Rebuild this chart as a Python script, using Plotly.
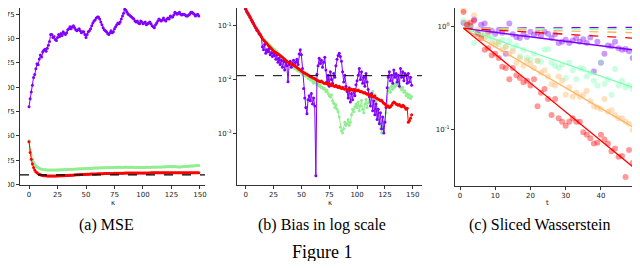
import plotly.graph_objects as go

# ---- panel (a): MSE vs kappa ----
mse_purple = [
    .080, .088, .095, .102, .110, .113, .119, .124, .123, .129,
    .133, .131, .136, .138, .139, .137, .140, .143, .147, .154,
    .154, .151, .152, .149, .148, .151, .154, .152, .155, .153,
    .157, .155, .154, .156, .159, .160, .162, .160, .162, .163,
    .161, .159, .158, .159, .160, .158, .156, .157, .157, .154,
    .151, .154, .157, .158, .160, .163, .166, .168, .169, .171,
    .172, .172, .170, .167, .164, .161, .159, .158, .157, .155,
    .154, .156, .158, .156, .157, .160, .162, .164, .166, .165,
    .167, .170, .173, .176, .180, .179, .177, .175, .174, .173,
    .172, .171, .170, .168, .167, .168, .166, .165, .168, .167,
    .165, .166, .167, .164, .165, .166, .167, .165, .163, .162,
    .161, .164, .166, .168, .170, .169, .168, .169, .171, .169,
    .168, .170, .171, .170, .173, .172, .172, .174, .177, .176,
    .175, .176, .177, .175, .174, .175, .175, .174, .173, .173,
    .174, .175, .177, .177, .176, .175, .173, .174, .175, .173,
]
mse_green = [
    .045, .036, .030, .026, .023, .021, .0195, .0183, .0174, .0167,
    .0162, .0158, .0156, .0154, .0152, .0151, .0150, .0149, .0149, .0148,
    .0148, .0149, .0148, .0150, .0149, .0150, .0151, .0150, .0152, .0151,
    .0152, .0153, .0152, .0154, .0155, .0154, .0156, .0157, .0156, .0158,
    .0158, .0159, .0160, .0159, .0161, .0162, .0161, .0163, .0164, .0163,
    .0164, .0165, .0166, .0165, .0167, .0168, .0167, .0169, .0170, .0169,
    .0170, .0171, .0170, .0172, .0171, .0172, .0173, .0172, .0174, .0173,
    .0174, .0175, .0174, .0176, .0175, .0176, .0177, .0176, .0178, .0177,
    .0178, .0177, .0176, .0177, .0178, .0179, .0178, .0177, .0176, .0177,
    .0178, .0177, .0176, .0175, .0176, .0177, .0176, .0175, .0176, .0177,
    .0176, .0175, .0176, .0177, .0178, .0177, .0176, .0178, .0179, .0178,
    .0180, .0179, .0178, .0180, .0181, .0180, .0179, .0181, .0182, .0181,
    .0182, .0183, .0184, .0185, .0184, .0183, .0182, .0184, .0185, .0183,
    .0182, .0181, .0180, .0181, .0182, .0183, .0184, .0185, .0186, .0187,
    .0188, .0189, .0190, .0191, .0190, .0192, .0194, .0195, .0196, .0195,
]
mse_red = [
    .044, .033, .026, .021, .0175, .0150, .0132, .0120, .0111, .0104,
    .0099, .0095, .0093, .0091, .0090, .0089, .0088, .0088, .0087, .0087,
    .0087, .0088, .0087, .0088, .0088, .0089, .0088, .0089, .0090, .0089,
    .0090, .0091, .0092, .0092, .0093, .0094, .0095, .0095, .0096, .0097,
    .0098, .0099, .0100, .0100, .0101, .0102, .0102, .0103, .0104, .0104,
    .0105, .0105, .0106, .0106, .0107, .0107, .0108, .0108, .0109, .0109,
    .0110, .0110, .0110, .0111, .0111, .0111, .0112, .0112, .0112, .0113,
    .0113, .0113, .0114, .0114, .0114, .0115, .0115, .0115, .0115, .0116,
    .0116, .0116, .0116, .0116, .0117, .0117, .0117, .0117, .0117, .0117,
    .0118, .0118, .0118, .0118, .0118, .0118, .0118, .0118, .0119, .0119,
    .0119, .0119, .0119, .0119, .0119, .0119, .0119, .0120, .0120, .0120,
    .0120, .0120, .0120, .0120, .0120, .0120, .0120, .0120, .0120, .0120,
    .0120, .0120, .0120, .0121, .0121, .0121, .0121, .0121, .0121, .0121,
    .0121, .0121, .0121, .0121, .0121, .0121, .0121, .0121, .0121, .0121,
    .0121, .0121, .0121, .0121, .0121, .0121, .0121, .0121, .0121, .0121,
]
mse_ref = 0.01

# ---- panel (b): bias in log scale ----
bias_red = [
    .209, .190, .172, .158, .145, .133, .122, .110, .102, .094,
    .087, .080, .074, .068, .063, .058, .055, .052, .049, .047,
    .044, .042, .040, .038, .036, .034, .033, .032, .031, .030,
    .029, .028, .027, .026, .025, .024, .023, .022, .021, .0205,
    .0200, .0195, .0190, .0186, .0180, .0175, .0168, .0162, .0155, .0150,
    .0145, .0140, .0136, .0132, .0128, .0125, .0121, .0118, .0114, .0112,
    .0108, .0106, .0104, .0100, .0097, .0095, .0093, .0091, .0094, .0089,
    .0086, .0084, .0087, .0083, .0081, .0085, .0079, .0077, .0080, .0076,
    .0074, .0078, .0073, .0071, .0075, .0070, .0068, .0072, .0067, .0066,
    .0069, .0065, .0064, .0067, .0063, .0066, .0064, .0062, .0065, .0063,
    .0062, .0064, .0061, .0059, .0060, .0058, .0056, .0057, .0055, .0053,
    .0054, .0051, .0050, .0052, .0048, .0047, .0049, .0045, .0044, .0043,
    .0042, .0040, .0041, .0038, .0036, .0035, .0033, .0031, .0032, .0030,
    .0031, .0033, .0036, .0038, .0037, .0035, .0034, .0033, .0034, .0032,
    .0031, .0033, .0032, .0030, .0028, .0029, .0016, .0017, .0019, .0022,
]
bias_green = [
    .205, .186, .170, .156, .143, .131, .120, .109, .101, .094,
    .088, .082, .076, .071, .066, .061, .058, .055, .052, .050,
    .047, .045, .043, .041, .039, .037, .036, .034, .033, .031,
    .030, .028, .027, .026, .024, .023, .022, .021, .020, .0195,
    .0190, .0180, .0175, .0170, .0160, .0165, .0150, .0145, .0155, .0140,
    .0135, .0125, .0130, .0120, .0115, .0125, .0105, .0110, .0098, .0102,
    .0092, .0085, .0096, .0088, .0080, .0083, .0075, .0079, .0070, .0072,
    .0066, .0068, .0060, .0063, .0055, .0050, .0047, .0052, .0040, .0036,
    .0030, .0034, .0028, .0025, .0020, .0013, .0011, .0010, .0012, .0016,
    .0014, .0015, .0018, .0014, .0016, .0022, .0028, .0025, .0031, .0035,
    .0030, .0038, .0026, .0032, .0041, .0028, .0024, .0035, .0043, .0030,
    .0037, .0048, .0055, .0050, .0060, .0046, .0052, .0039, .0030, .0022,
    .0016, .0012, .0010, .0013, .0011, .0017, .0024, .0035, .0062, .0070,
    .0058, .0075, .0066, .0080, .0072, .0087, .0078, .0090, .0083, .0070,
    .0064, .0072, .0058, .0062, .0050, .0055, .0046, .0052, .0044, .0048,
]
bias_purple = [
    .205, .185, .175, .160, .146, .130, .119, .112, .100, .093,
    .083, .081, .072, .070, .063,
    .041, .036, .045, .031, .036, .033, .038, .029, .032, .027, .031,
    .028, .024, .029, .021, .025, .019, .023, .017, .022, .015, .021, .018,
    .0091,
    .019, .022, .017, .020, .023, .018, .021, .024, .019,
    .030, .036, .029,
    .016, .0068, .0045, .0030, .0023, .0042,
    .0050, .0040, .0055, .0035, .0045, .0032,
    .00016,
    .0125,
    .018, .025, .020, .023, .017, .021,
    .026, .015, .009, .012, .0075, .014, .010, .0085, .013, .011,
    .018, .024, .028, .031, .027, .022, .014, .009, .012, .0075,
    .0060, .0045, .0070, .0038, .0055, .0042, .0065, .0050, .0080, .0095,
    .012, .016, .010, .014, .0085, .011, .0075, .013, .0090, .0065,
    .0048, .0032, .0055, .0026, .0040, .0022, .0035, .0018, .0028, .0015,
    .0024, .0012, .0020, .0010, .0016, .0030,
    .0070, .0110, .014, .0095, .012, .0085, .015, .011, .013, .0090,
    .012, .0075, .016, .011, .014, .0095, .013, .012, .0085, .013,
    .0090, .011, .0078,
]
bias_ref = 0.0118

# ---- panel (c): sliced Wasserstein ----
sw_steps = list(range(1, 50))
sw_purple = [
    1.10, 1.05, 1.02, 1.18, 0.88, 1.05, 1.08, 0.90, 0.92, 0.86,
    0.94, 0.88, 0.55, 1.08, 0.85, 0.80, 0.78, 0.85, 0.80, 0.90,
    0.84, 0.88, 0.82, 0.90, 0.86, 0.78, 0.85, 0.70, 0.72, 0.75,
    0.70, 0.74, 0.78, 0.72, 0.76, 0.70, 0.79, 0.37, 0.72, 0.45,
    0.55, 0.66, 0.65, 0.72, 0.62, 0.60, 0.61, 0.58, 0.50,
]
sw_green = [
    1.15, 1.05, 1.00, 0.70, 0.90, 0.82, 0.85, 0.78, 0.80, 0.72,
    0.68, 0.75, 0.65, 0.74, 0.62, 0.66, 0.52, 0.60, 0.50, 0.48,
    0.55, 0.47, 0.46, 0.60, 0.61, 0.45, 0.42, 0.40, 0.43, 0.32,
    0.45, 0.38, 0.31, 0.40, 0.39, 0.33, 0.36, 0.30, 0.27, 0.45,
    0.28, 0.31, 0.22, 0.39, 0.27, 0.30, 0.26, 0.27, 0.25,
]
sw_orange = [
    1.45, 1.10, 1.00, 1.30, 0.95, 0.85, 0.80, 0.88, 0.70, 0.66,
    0.72, 0.60, 0.64, 0.55, 0.58, 0.45, 0.50, 0.42, 0.47, 0.44,
    0.40, 0.47, 0.36, 0.38, 0.33, 0.28, 0.27, 0.33, 0.30, 0.22,
    0.26, 0.21, 0.23, 0.21, 0.22, 0.24, 0.19, 0.17, 0.165, 0.16,
    0.20, 0.15, 0.155, 0.14, 0.13, 0.13, 0.12, 0.115, 0.10,
]
sw_red = [
    1.40, 1.05, 1.10, 1.15, 0.85, 0.78, 0.60, 0.62, 0.53, 0.55,
    0.50, 0.41, 0.40, 0.31, 0.40, 0.34, 0.32, 0.29, 0.30, 0.27,
    0.31, 0.17, 0.23, 0.25, 0.20, 0.14, 0.20, 0.13, 0.12, 0.11,
    0.12, 0.13, 0.12, 0.12, 0.095, 0.09, 0.083, 0.074, 0.075, 0.09,
    0.081, 0.074, 0.062, 0.066, 0.055, 0.056, 0.035, 0.064, 0.048,
]
# fitted lines: value at first and last step
fit_start = 0.97
fit_solid_end = [0.60, 0.26, 0.107, 0.044]
fit_dashed_end = [0.99, 0.95, 0.88, 0.78]

sw_colors = ["#8000ff", "#80ffb4", "#ffb360", "#ff0000"]
c_purple, c_green, c_red = "#8000ff", "#90ee90", "#ff0000"

# the page body keeps an 8px margin; positions below are window pixels,
# shifted by OFF, and the figure is kept small enough not to scroll
OFF = 8
W, H = 640 - OFF, 269 - 2 * OFF
tick_font = dict(family="DejaVu Sans", size=7, color="#222")


def xdom(a, b):
    return [(a - OFF) / W, min(1.0, (b - OFF) / W)]


def ydom(bottom_px):
    return [1 - (bottom_px - OFF) / H, 1.0]


def px(x):
    return (x - OFF) / W


def py(y):
    return 1 - (y - OFF) / H


fig = go.Figure()

axis_style = dict(showgrid=False, zeroline=False, showline=True, linecolor="#333",
                  linewidth=1, ticks="outside", ticklen=3, tickcolor="#333",
                  tickfont=tick_font, mirror=False, automargin=False,
                  ticklabeloverflow="allow")

# panel a
for vals, col in [(mse_purple, c_purple), (mse_green, c_green), (mse_red, c_red)]:
    fig.add_trace(go.Scatter(x=list(range(len(vals))), y=vals, mode="lines+markers",
                             line=dict(color=col, width=1), marker=dict(color=col, size=3),
                             xaxis="x", yaxis="y", showlegend=False, cliponaxis=False))
fig.add_shape(type="line", xref="x domain", yref="y", x0=0, x1=1, y0=mse_ref, y1=mse_ref,
              line=dict(color="black", width=1.2, dash="dash"))

# panel b
for vals, col in [(bias_green, c_green), (bias_purple, c_purple), (bias_red, c_red)]:
    fig.add_trace(go.Scatter(x=list(range(len(vals))), y=vals, mode="lines+markers",
                             line=dict(color=col, width=1), marker=dict(color=col, size=3),
                             xaxis="x2", yaxis="y2", showlegend=False))
fig.add_shape(type="line", xref="x2 domain", yref="y2", x0=0, x1=1, y0=bias_ref, y1=bias_ref,
              line=dict(color="black", width=1, dash="dash"))

# panel c
for vals, col in zip([sw_purple, sw_green, sw_orange, sw_red], sw_colors):
    fig.add_trace(go.Scatter(x=sw_steps, y=vals, mode="markers",
                             marker=dict(color=col, size=6, opacity=0.4),
                             xaxis="x3", yaxis="y3", showlegend=False))
for i, col in enumerate(sw_colors):
    fig.add_trace(go.Scatter(x=[sw_steps[0], sw_steps[-1]], y=[fit_start, fit_dashed_end[i]],
                             mode="lines", line=dict(color=col, width=1.3, dash="dash"),
                             xaxis="x3", yaxis="y3", showlegend=False))
    fig.add_trace(go.Scatter(x=[sw_steps[0], sw_steps[-1]], y=[fit_start, fit_solid_end[i]],
                             mode="lines", line=dict(color=col, width=1.3),
                             xaxis="x3", yaxis="y3", showlegend=False))

fig.update_layout(
    width=W, height=H, margin=dict(l=0, r=0, t=0, b=0, autoexpand=False),
    paper_bgcolor="white", plot_bgcolor="white", showlegend=False,
    xaxis=dict(domain=xdom(20, 205), range=[-7.9, 154.4], tickvals=[0, 25, 50, 75, 100, 125, 150],
               anchor="y", **axis_style),
    yaxis=dict(domain=ydom(185), range=[-0.0005, 0.1813], tickformat=".3f",
               tickvals=[0, .025, .05, .075, .1, .125, .15, .175], anchor="x", **axis_style),
    xaxis2=dict(domain=xdom(237, 422), range=[-7.8, 158.3], tickvals=[0, 25, 50, 75, 100, 125, 150],
                anchor="y2", **axis_style),
    yaxis2=dict(domain=ydom(185), type="log", range=[-3.97, -0.664], tickvals=[1e-3, 1e-2, 1e-1],
                ticktext=["10<sup>-3</sup>", "10<sup>-2</sup>", "10<sup>-1</sup>"],
                anchor="x2", **axis_style),
    xaxis3=dict(domain=xdom(455, 640), range=[-1.42, 51.1], tickvals=[0, 10, 20, 30, 40, 50],
                anchor="y3", **axis_style),
    yaxis3=dict(domain=ydom(186), type="log", range=[-1.544, 0.184], tickvals=[0.1, 1],
                ticktext=["10<sup>-1</sup>", "10<sup>0</sup>"], anchor="x3", **axis_style),
)

# axis labels and captions
for cx, lab in [(112.5, "κ"), (329.5, "κ"), (547, "t")]:
    fig.add_annotation(x=px(cx), y=py(203), xref="paper", yref="paper", text=lab,
                       xanchor="center", yanchor="middle", showarrow=False,
                       font=dict(family="DejaVu Sans", size=7, color="#222"))
cap_font = dict(family="Liberation Serif", size=16, color="black")
for cx, cap in [(106, "(a) MSE"), (322, "(b) Bias in log scale"), (539, "(c) Sliced Wasserstein")]:
    fig.add_annotation(x=px(cx), y=py(225), xref="paper", yref="paper", text=cap,
                       xanchor="center", yanchor="middle", showarrow=False, font=cap_font)
fig.add_annotation(x=px(322), y=py(252), xref="paper", yref="paper", text="Figure 1",
                   xanchor="center", yanchor="middle", showarrow=False,
                   font=dict(family="Liberation Serif", size=18, color="black"))

fig.write_html("out.html")
